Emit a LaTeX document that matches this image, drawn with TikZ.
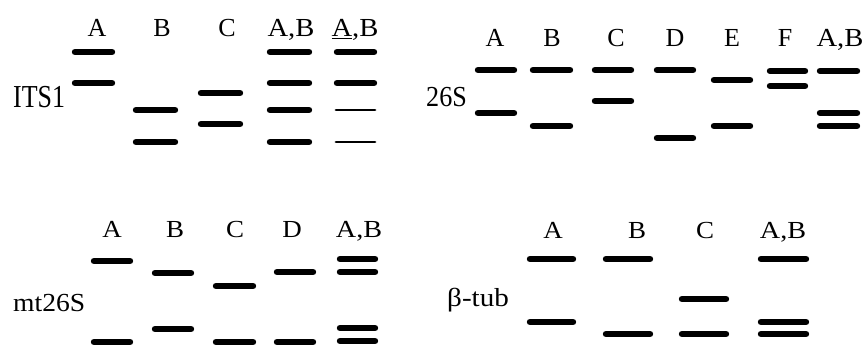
\documentclass[tikz,border=0pt]{standalone}
\usepackage{graphicx}
\usepackage{fontspec}
\setmainfont{Liberation Serif}
\newcommand{\wideab}[1]{\scalebox{1.1}[1]{#1}}
\begin{document}
\begin{tikzpicture}[x=1pt,y=-1pt,
  bar/.style={line width=6.4pt,line cap=round},
  thinbar/.style={line width=2.8pt,line cap=round},
  lbl/.style={inner sep=0pt,anchor=base,font=\fontsize{26}{28}\selectfont},
  lbls/.style={inner sep=0pt,anchor=base,font=\fontsize{24.5}{26}\selectfont},
  rowlbl/.style={inner sep=0pt,anchor=base west}]
\useasboundingbox (0,0) rectangle (865,347);
\fill[white] (0,0) rectangle (865,347);
% ---------- Panel 1: ITS1
\node[rowlbl,font=\fontsize{32}{34}\selectfont] (its) at (13,108) {\scalebox{0.81}[1]{ITS1}};
\node[lbl] (p1a) at (97,37) {A};
\node[lbl] (p1b) at (162,37) {B};
\node[lbl] (p1c) at (227,37) {C};
\node[lbl] (p1ab) at (291,37) {\wideab{A,B}};
\node[lbl] (p1ab2) at (355,37) {\wideab{\underline{A},B}};
\draw[bar] (75,52) -- (112,52);
\draw[bar] (75,83) -- (112,83);
\draw[bar] (136,110) -- (175,110);
\draw[bar] (136,142) -- (175,142);
\draw[bar] (201,93) -- (240,93);
\draw[bar] (201,124) -- (240,124);
\draw[bar] (270,52) -- (309,52);
\draw[bar] (270,83) -- (309,83);
\draw[bar] (270,110) -- (309,110);
\draw[bar] (270,142) -- (309,142);
\draw[bar] (337,52) -- (374,52);
\draw[bar] (337,83) -- (374,83);
\draw[thinbar] (336,110) -- (375,110);
\draw[thinbar] (336,142) -- (375,142);
% ---------- Panel 2: 26S
\node[rowlbl,font=\fontsize{29}{31}\selectfont] (s26) at (426,107) {\scalebox{0.9}[1]{26S}};
\node[lbl] (p2a) at (495,47) {A};
\node[lbl] (p2b) at (552,47) {B};
\node[lbl] (p2c) at (616,47) {C};
\node[lbl] (p2d) at (675,47) {D};
\node[lbl] (p2e) at (732,47) {E};
\node[lbl] (p2f) at (785,47) {F};
\node[lbl] (p2ab) at (840,47) {\wideab{A,B}};
\draw[bar] (478,70) -- (514,70);
\draw[bar] (478,113) -- (514,113);
\draw[bar] (533,70) -- (570,70);
\draw[bar] (533,126) -- (570,126);
\draw[bar] (595,70) -- (631,70);
\draw[bar] (595,101) -- (631,101);
\draw[bar] (657,70) -- (693,70);
\draw[bar] (657,138) -- (693,138);
\draw[bar] (714,80) -- (750,80);
\draw[bar] (714,126) -- (750,126);
\draw[bar] (770,71) -- (805,71);
\draw[bar] (770,86) -- (805,86);
\draw[bar] (820,71) -- (857,71);
\draw[bar] (820,113) -- (857,113);
\draw[bar] (820,126) -- (857,126);
% ---------- Panel 3: mt26S
\node[rowlbl,font=\fontsize{26}{28}\selectfont] (mt) at (13,312) {\scalebox{1.06}[1]{mt26S}};
\node[lbls] (p3a) at (112,238) {\wideab{A}};
\node[lbls] (p3b) at (175,238) {\wideab{B}};
\node[lbls] (p3c) at (235,238) {\wideab{C}};
\node[lbls] (p3d) at (292,238) {\wideab{D}};
\node[lbls] (p3ab) at (359,238) {\scalebox{1.15}[1]{A,B}};
\draw[bar] (94,261) -- (130,261);
\draw[bar] (94,342) -- (130,342);
\draw[bar] (155,273) -- (191,273);
\draw[bar] (155,329) -- (191,329);
\draw[bar] (216,286) -- (253,286);
\draw[bar] (216,342) -- (253,342);
\draw[bar] (277,272) -- (313,272);
\draw[bar] (277,342) -- (313,342);
\draw[bar] (340,259) -- (375,259);
\draw[bar] (340,272) -- (375,272);
\draw[bar] (340,328) -- (375,328);
\draw[bar] (340,341) -- (375,341);
% ---------- Panel 4: beta-tub
\node[rowlbl,font=\fontsize{26}{28}\selectfont] (bt) at (447,307) {\scalebox{1.12}[1]{β-tub}};
\node[lbls] (p4a) at (553,239) {\wideab{A}};
\node[lbls] (p4b) at (637,239) {\wideab{B}};
\node[lbls] (p4c) at (705,239) {\wideab{C}};
\node[lbls] (p4ab) at (783,239) {\scalebox{1.15}[1]{A,B}};
\draw[bar] (530,259) -- (573,259);
\draw[bar] (530,322) -- (573,322);
\draw[bar] (606,259) -- (650,259);
\draw[bar] (606,334) -- (650,334);
\draw[bar] (682,299) -- (726,299);
\draw[bar] (682,334) -- (726,334);
\draw[bar] (761,259) -- (806,259);
\draw[bar] (761,322) -- (806,322);
\draw[bar] (761,334) -- (806,334);
\end{tikzpicture}
\end{document}
